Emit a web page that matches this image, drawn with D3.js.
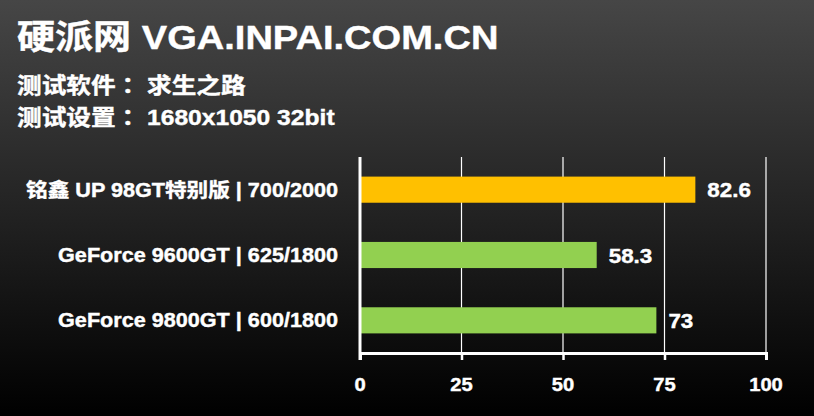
<!DOCTYPE html>
<html><head><meta charset="utf-8">
<script src="https://cdn.jsdelivr.net/npm/d3@7/dist/d3.min.js"></script>
<style>body{margin:0;background:#000}svg{display:block}</style>
</head><body>
<svg id="c" width="814" height="416"></svg>
<script>
const title = "硬派网 VGA.INPAI.COM.CN";
const subtitleLabels = ["测试软件", "测试设置"];
const subtitleValues = ["求生之路", "1680x1050 32bit"];
const categories = ["铭鑫 UP 98GT特别版 | 700/2000", "GeForce 9600GT | 625/1800", "GeForce 9800GT | 600/1800"];
const values = [82.6, 58.3, 73];
const barColors = ["#FFC000", "#92D050", "#92D050"];
const ticks = [0, 25, 50, 75, 100];

const W = 814, H = 416, SX = 1.12;
const FONT = "'Liberation Sans', Arial, 'Noto Sans CJK SC', sans-serif";
const svg = d3.select("#c");
const defs = svg.append("defs");
const g = defs.append("linearGradient").attr("id","bg").attr("x1",0).attr("y1",0).attr("x2",0).attr("y2",1);
g.append("stop").attr("offset","0%").attr("stop-color","#464646");
g.append("stop").attr("offset","100%").attr("stop-color","#000000");
svg.append("rect").attr("width",W).attr("height",H).attr("fill","url(#bg)");

function txt(x, y, s, size, anchor) {
  return svg.append("text")
    .attr("transform", `translate(${x},${y}) scale(${SX},1)`)
    .attr("text-anchor", anchor || "start")
    .attr("font-family", FONT).attr("font-weight", "bold")
    .attr("font-size", size).attr("fill", "#fff")
    .attr("stroke", "#fff").attr("stroke-width", 0.4)
    .text(s);
}

txt(17, 49, title, 34);
[93, 125].forEach((yy, i) => {
  const t = txt(17, yy, "", 22);
  t.append("tspan").text(subtitleLabels[i]);
  t.append("tspan").attr("font-family", "'Noto Sans CJK TC', sans-serif").text("：");
  t.append("tspan").text(" " + subtitleValues[i]);
});

const x = d3.scaleLinear().domain([0, 100]).range([360, 766]);
const y = d3.scaleBand().domain(categories).range([157, 353]).paddingInner(0.6).paddingOuter(0.3);

// gridlines
svg.append("g").selectAll("line").data(ticks.slice(1)).join("line")
  .attr("x1", d => x(d)).attr("x2", d => x(d)).attr("y1", 157).attr("y2", 353)
  .attr("stroke", "#fff").attr("stroke-width", 1.2);

// bars
svg.append("g").selectAll("rect").data(values).join("rect")
  .attr("x", x(0)).attr("y", (d,i) => y(categories[i]))
  .attr("width", d => x(d) - x(0)).attr("height", y.bandwidth())
  .attr("fill", (d,i) => barColors[i]);

// x axis
const ax = svg.append("g").attr("transform", "translate(0,353)")
  .call(d3.axisBottom(x).tickValues(ticks).tickSize(7).tickPadding(0).tickFormat(d3.format("d")));
ax.select(".domain").attr("stroke", "#fff").attr("stroke-width", 3);
ax.selectAll(".tick line").attr("stroke", "#fff").attr("stroke-width", 2.5);
ax.selectAll(".tick text").remove();
ticks.forEach(t => txt(x(t), 391, String(t), 18, "middle"));

// y axis line
svg.append("line").attr("x1", x(0)).attr("x2", x(0)).attr("y1", 157).attr("y2", 360)
  .attr("stroke", "#fff").attr("stroke-width", 3);

// category labels
categories.forEach(c => txt(338, y(c) + y.bandwidth()/2 + 7, c, 19.3, "end"));

// value labels
values.forEach((v, i) => txt(x(v) + 12, y(categories[i]) + y.bandwidth()/2 + 7.5, String(v), 20, "start"));
</script>
</body></html>
